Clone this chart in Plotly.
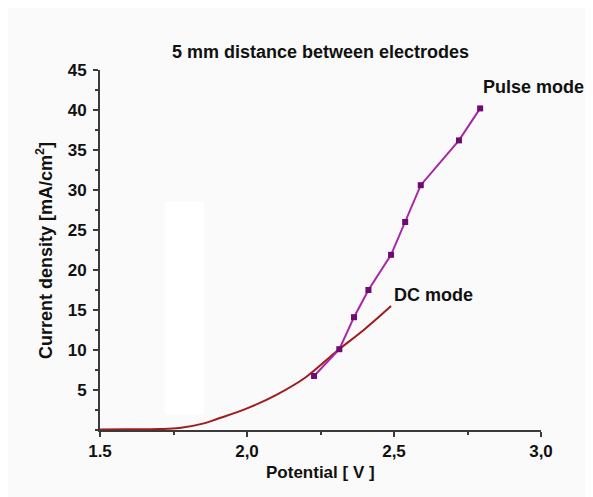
import plotly.graph_objects as go

# Pulse mode measurements
pulse_x = [2.228, 2.314, 2.364, 2.413, 2.490, 2.538, 2.591, 2.721, 2.793]
pulse_y = [6.75, 10.1, 14.1, 17.5, 21.9, 26.0, 30.6, 36.2, 40.2]

# DC mode curve
dc_x = [1.50, 1.60, 1.70, 1.77, 1.85, 1.90, 2.00, 2.10, 2.20, 2.30, 2.40, 2.49]
dc_y = [0.05, 0.08, 0.12, 0.25, 0.80, 1.40, 2.70, 4.40, 6.60, 9.70, 12.6, 15.5]

x_tickvals = [1.5, 2.0, 2.5, 3.0]
x_ticktext = ["1.5", "2,0", "2,5", "3,0"]
y_tickvals = [5, 10, 15, 20, 25, 30, 35, 40, 45]

FONT = "Liberation Sans, Arial, sans-serif"
AXC = "#3a3a3a"

fig = go.Figure()
fig.add_trace(go.Scatter(
    x=dc_x, y=dc_y, mode="lines",
    line=dict(color="#a01c1c", width=2, shape="spline"),
    showlegend=False))
fig.add_trace(go.Scatter(
    x=pulse_x, y=pulse_y, mode="lines+markers",
    line=dict(color="#a826a8", width=2),
    marker=dict(symbol="square", size=6, color="#6e0a70"),
    showlegend=False))

# faint white patch present in the original image
fig.add_shape(type="rect", xref="x", yref="y", x0=1.721, x1=1.854, y0=1.9, y1=28.5,
              fillcolor="white", line=dict(width=0), layer="below")

axis_common = dict(
    showline=True, linecolor=AXC, linewidth=2, showgrid=False, zeroline=False,
    ticks="outside", ticklen=5, tickwidth=2, tickcolor=AXC,
    tickfont=dict(family=FONT, size=17, color="#111", weight="bold"),
)

fig.update_xaxes(range=[1.5, 3.0], tickvals=x_tickvals, ticktext=x_ticktext,
                 minor=dict(ticks="outside", ticklen=3, tickwidth=2, tickcolor=AXC,
                            tick0=1.5, dtick=0.25),
                 **axis_common)
fig.update_yaxes(range=[0, 45], tickvals=y_tickvals, ticklabelstandoff=3,
                 minor=dict(ticks="outside", ticklen=3, tickwidth=2, tickcolor=AXC,
                            tick0=0, dtick=2.5),
                 **axis_common)

def f(size):
    return dict(family=FONT, size=size, color="#111", weight="bold")

fig.update_layout(
    width=585, height=489,
    margin=dict(l=92, r=52, t=62, b=67),
    paper_bgcolor="#fafafa", plot_bgcolor="#fafafa",
    annotations=[
        dict(text="5 mm distance between electrodes", xref="paper", yref="paper",
             x=0.5, y=1.05, xanchor="center", yanchor="middle", showarrow=False, font=f(18)),
        dict(text="Potential [ V ]", xref="paper", yref="paper",
             x=0.5, y=-0.119, xanchor="center", yanchor="middle", showarrow=False, font=f(17)),
        dict(text="Current density [mA/cm<sup>2</sup>]", xref="paper", yref="paper",
             x=-0.127, y=0.5, xanchor="center", yanchor="middle", textangle=-90,
             showarrow=False, font=f(18)),
        dict(text="Pulse mode", xref="x", yref="y", x=2.976, y=42.9,
             xanchor="center", yanchor="middle", showarrow=False, font=f(18)),
        dict(text="DC mode", xref="x", yref="y", x=2.636, y=16.9,
             xanchor="center", yanchor="middle", showarrow=False, font=f(18)),
    ],
)

fig.write_html("out.html")
